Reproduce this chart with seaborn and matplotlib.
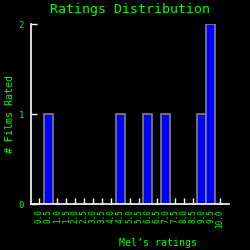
import matplotlib
matplotlib.use("Agg")
import matplotlib.pyplot as plt
import seaborn as sns
import pandas as pd

ratings = ["0.0", "0.5", "1.0", "1.5", "2.0", "2.5", "3.0", "3.5", "4.0", "4.5",
           "5.0", "5.5", "6.0", "6.5", "7.0", "7.5", "8.0", "8.5", "9.0", "9.5", "10.0"]
counts = [0, 1, 0, 0, 0, 0, 0, 0, 0, 1, 0, 0, 1, 0, 1, 0, 0, 0, 1, 2, 0]

df = pd.DataFrame({"rating": ratings, "count": counts})

sns.set_style("dark")
plt.rcParams["font.family"] = ["DejaVu Sans Mono"]
green = "#00ff00"

fig = plt.figure(figsize=(2.5, 2.5), dpi=100, facecolor="black")
ax = fig.add_axes([0.124, 0.184, 0.792, 0.72])
ax.set_facecolor("black")

sns.barplot(data=df, x="rating", y="count", order=ratings, color="#0000ff",
            saturation=1, width=1.0, edgecolor="#808080", linewidth=1.2, ax=ax)
for p in ax.patches:
    if p.get_height() == 0:
        p.set_linewidth(0)

ax.set_xlim(-0.9, 21.0)
ax.set_ylim(0, 2)
ax.set_yticks([0, 1, 2])
ax.set_yticklabels(["0", "1", "2"])
ax.set_xticks(range(len(ratings)))
ax.set_xticklabels(ratings, rotation=90)
ax.grid(False)

ax.tick_params(axis="x", bottom=True, direction="in", length=4, width=1, color="white",
               labelcolor=green, labelsize=5.5, pad=4)
ax.tick_params(axis="y", left=True, direction="in", length=4, width=1, color="white",
               labelcolor=green, labelsize=6.5, pad=5)

for s in ["left", "bottom"]:
    ax.spines[s].set_visible(True)
    ax.spines[s].set_color("white")
    ax.spines[s].set_linewidth(1.2)
    ax.spines[s].set_zorder(5)
for s in ["top", "right"]:
    ax.spines[s].set_visible(False)

ax.set_title("Ratings Distribution", color=green, fontsize=9.5, pad=8)
ax.set_xlabel("Mel\u2019s ratings", color=green, fontsize=7.2)
ax.set_ylabel("# Films Rated", color=green, fontsize=7.2)
ax.xaxis.set_label_coords(0.64, -0.19)
ax.yaxis.set_label_coords(-0.08, 0.5)

fig.savefig("out.png", dpi=100, facecolor="black")
